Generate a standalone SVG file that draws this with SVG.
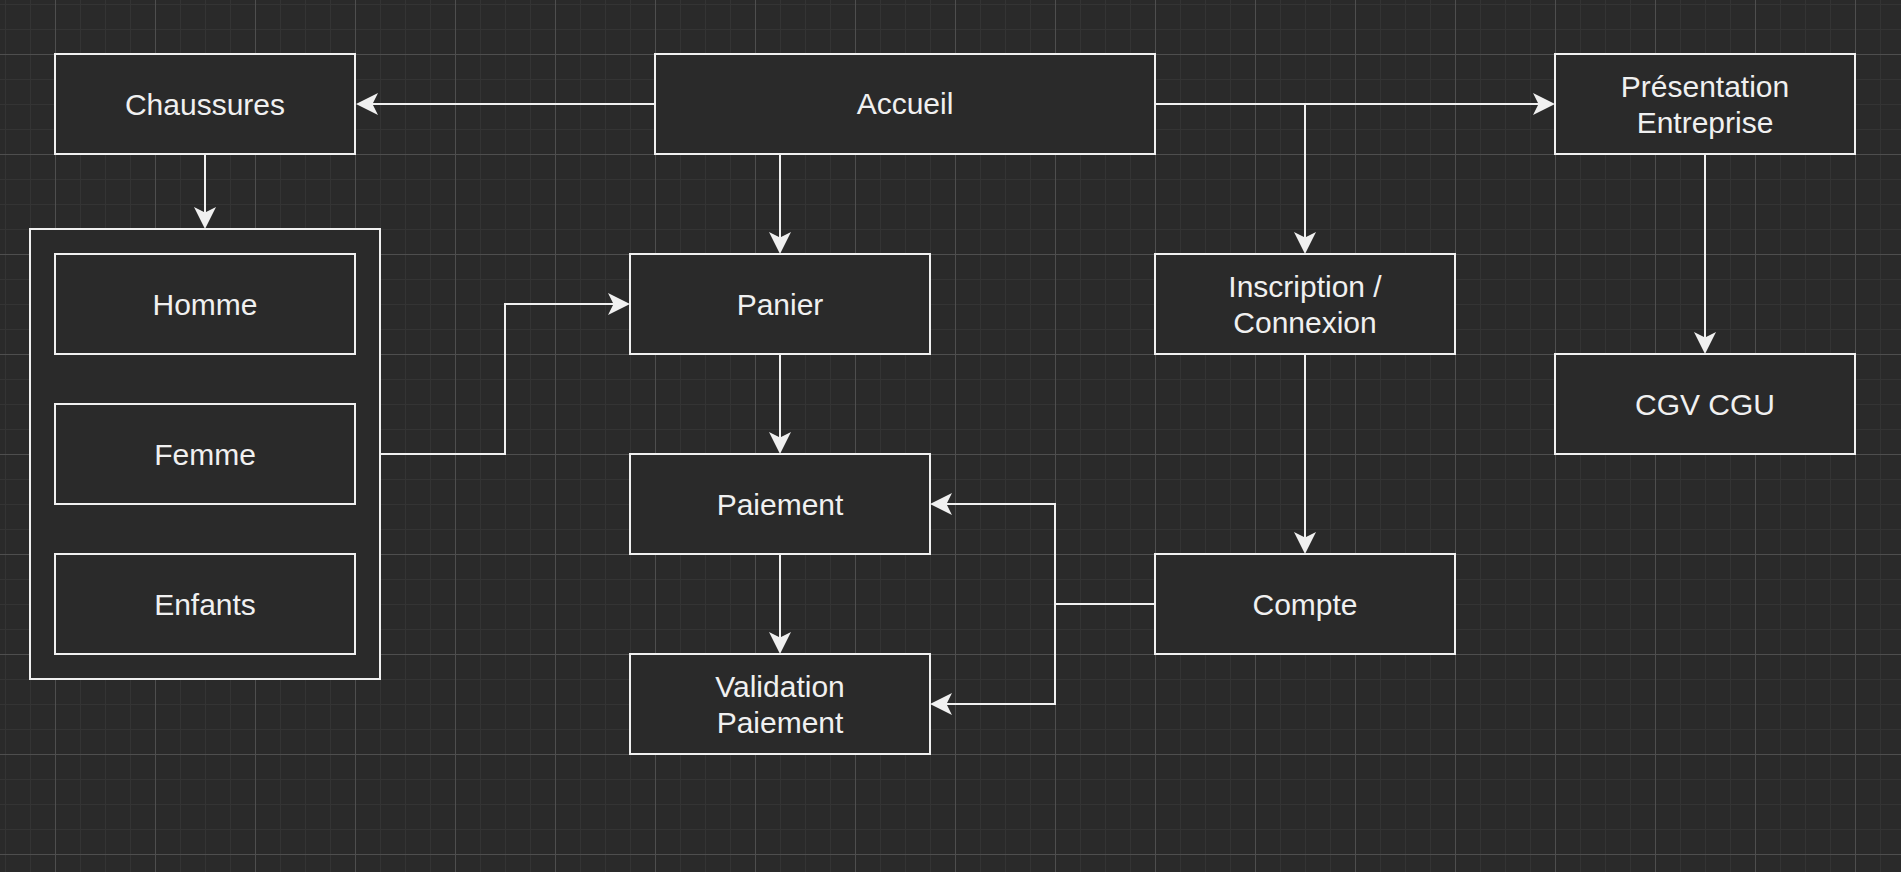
<svg xmlns="http://www.w3.org/2000/svg" width="1901" height="872" viewBox="0 0 1901 872">
<style>
.box{fill:#2a2a2a;stroke:#f0f0f0;stroke-width:2}
.lbl{fill:#f0f0f0;font-family:"Liberation Sans",Arial,sans-serif;font-size:30px;text-anchor:middle}
.edge{fill:none;stroke:#f0f0f0;stroke-width:2}
</style>
<defs>
<pattern id="grid" x="5" y="4" width="100" height="100" patternUnits="userSpaceOnUse">
<rect x="0" y="0" width="1" height="100" fill="#343434"/>
<rect x="25" y="0" width="1" height="100" fill="#343434"/>
<rect x="75" y="0" width="1" height="100" fill="#343434"/>
<rect x="0" y="0" width="100" height="1" fill="#343434"/>
<rect x="0" y="25" width="100" height="1" fill="#343434"/>
<rect x="0" y="75" width="100" height="1" fill="#343434"/>
<rect x="50" y="0" width="1" height="100" fill="#4e4e4e"/>
<rect x="0" y="50" width="100" height="1" fill="#4e4e4e"/>
</pattern>
<marker id="arr" viewBox="0 -11 22 22" refX="12" refY="0" markerWidth="22" markerHeight="22" markerUnits="userSpaceOnUse" orient="auto">
<path d="M22,0 L0,-11 L5.5,0 L0,11 Z" fill="#f0f0f0"/>
</marker>
</defs>
<rect width="1901" height="872" fill="#2a2a2a"/>
<rect width="1901" height="872" fill="url(#grid)"/>
<g id="connectors">
<path class="edge" d="M655,104 H366" marker-end="url(#arr)"/>
<path class="edge" d="M205,154 V219" marker-end="url(#arr)"/>
<path class="edge" d="M780,154 V244" marker-end="url(#arr)"/>
<path class="edge" d="M1155,104 H1545" marker-end="url(#arr)"/>
<path class="edge" d="M1305,104 V244" marker-end="url(#arr)"/>
<path class="edge" d="M1705,154 V344" marker-end="url(#arr)"/>
<path class="edge" d="M780,354 V444" marker-end="url(#arr)"/>
<path class="edge" d="M780,554 V644" marker-end="url(#arr)"/>
<path class="edge" d="M1305,354 V544" marker-end="url(#arr)"/>
<path class="edge" d="M381,454 H505 V304 H620" marker-end="url(#arr)"/>
<path class="edge" d="M1155,604 H1055 V504 H940" marker-end="url(#arr)"/>
<path class="edge" d="M1055,604 V704 H940" marker-end="url(#arr)"/>
</g>
<g id="chaussures"><rect class="box" x="55" y="54" width="300" height="100"/><text class="lbl" x="205" y="114.5">Chaussures</text></g>
<g id="accueil"><rect class="box" x="655" y="54" width="500" height="100"/><text class="lbl" x="905" y="114">Accueil</text></g>
<g id="presentation"><rect class="box" x="1555" y="54" width="300" height="100"/><text class="lbl" x="1705" y="96.7">Présentation</text><text class="lbl" x="1705" y="133.3">Entreprise</text></g>
<g id="categories"><rect class="box" x="30" y="229" width="350" height="450"/></g>
<g id="homme"><rect class="box" x="55" y="254" width="300" height="100"/><text class="lbl" x="205" y="314.5">Homme</text></g>
<g id="femme"><rect class="box" x="55" y="404" width="300" height="100"/><text class="lbl" x="205" y="464.5">Femme</text></g>
<g id="enfants"><rect class="box" x="55" y="554" width="300" height="100"/><text class="lbl" x="205" y="614.5">Enfants</text></g>
<g id="panier"><rect class="box" x="630" y="254" width="300" height="100"/><text class="lbl" x="780" y="314.5">Panier</text></g>
<g id="paiement"><rect class="box" x="630" y="454" width="300" height="100"/><text class="lbl" x="780" y="514.5">Paiement</text></g>
<g id="validation"><rect class="box" x="630" y="654" width="300" height="100"/><text class="lbl" x="780" y="696.7">Validation</text><text class="lbl" x="780" y="733.3">Paiement</text></g>
<g id="inscription"><rect class="box" x="1155" y="254" width="300" height="100"/><text class="lbl" x="1305" y="296.7">Inscription /</text><text class="lbl" x="1305" y="333.3">Connexion</text></g>
<g id="compte"><rect class="box" x="1155" y="554" width="300" height="100"/><text class="lbl" x="1305" y="614.5">Compte</text></g>
<g id="cgv"><rect class="box" x="1555" y="354" width="300" height="100"/><text class="lbl" x="1705" y="414.5">CGV CGU</text></g>
</svg>
